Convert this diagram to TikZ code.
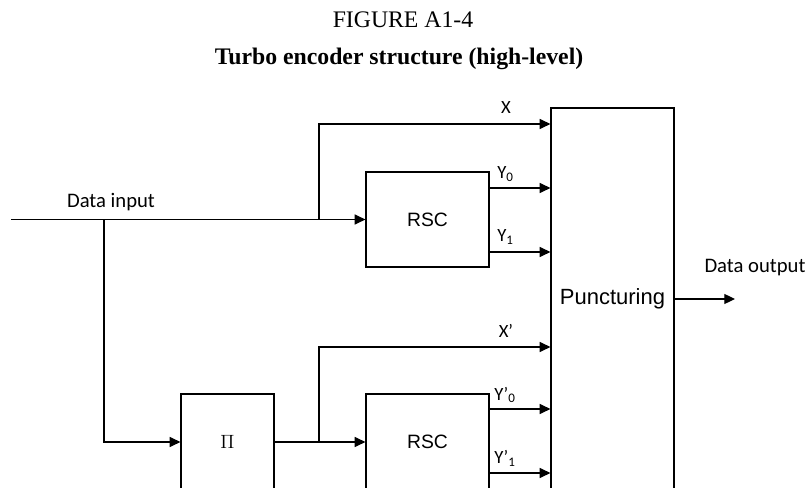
\documentclass[tikz,border=0pt]{standalone}
\usepackage{fontspec}
\setmainfont{Liberation Serif}
\newfontfamily\lblfont{Carlito}
\newfontfamily\boxfont{Liberation Sans}
\usetikzlibrary{arrows.meta}
\tikzset{
  blk/.style={draw, line width=0.9pt, inner sep=0pt, font=\boxfont\fontsize{14.5}{16}\selectfont},
  sig/.style={line width=0.9pt, -{Triangle[length=8pt,width=7.5pt]}},
  lbl/.style={inner sep=0pt, font=\lblfont\fontsize{14}{16}\selectfont},
}
\begin{document}
\begin{tikzpicture}[x=0.75pt,y=-0.75pt]
\useasboundingbox (0,0) rectangle (807,488);
\clip (0,0) rectangle (807,488);
% titles
\node[anchor=base, font=\fontsize{17.8}{20}\selectfont] (fig) at (403,28) {FIGURE A1-4};
\node[anchor=base, font=\bfseries\fontsize{17.8}{20}\selectfont] (ttl) at (399,65) {Turbo encoder structure (high-level)};
% blocks
\node[blk, minimum width=92.25pt, minimum height=71.25pt] (rsca) at (427.5,219.5) {RSC};
\node[blk, minimum width=92.25pt, minimum height=72pt] (rscb) at (427.5,442) {RSC};
\node[blk, minimum width=69.75pt, minimum height=72pt, font=\fontsize{15}{17}\selectfont] (perm) at (227.5,442) {$\Pi$};
\node[blk, minimum width=92.25pt, minimum height=285.75pt, font=\boxfont\fontsize{16.5}{18}\selectfont] (punct) at (612.5,298.5) {Puncturing};
% points on the lines
\coordinate (din) at (11,219.5);
\coordinate (sp0) at (104,219.5);
\coordinate (sp1) at (319,219.5);
\coordinate (sp2) at (319,442);
\coordinate (xa) at (319,124);
\coordinate (xb) at (319,347);
\coordinate (ya0) at (489,188);
\coordinate (ya1) at (489,252);
\coordinate (yb0) at (489,409);
\coordinate (yb1) at (489,473);
\coordinate (dout) at (735,299);
% connectors
\draw[sig] (din) -- (rsca.west);
\draw[sig] (sp0) |- (perm.west);
\draw[sig] (sp1) -- (xa) -- (punct.west |- xa);
\draw[sig] (perm.east) -- (rscb.west);
\draw[sig] (sp2) -- (xb) -- (punct.west |- xb);
\draw[sig] (ya0) -- (punct.west |- ya0);
\draw[sig] (ya1) -- (punct.west |- ya1);
\draw[sig] (yb0) -- (punct.west |- yb0);
\draw[sig] (yb1) -- (punct.west |- yb1);
\draw[sig] (punct.east |- dout) -- (dout);
% labels
\node[lbl, font=\lblfont\fontsize{15.5}{17}\selectfont] (lin) at (111,202) {Data input};
\node[lbl, font=\lblfont\fontsize{15.5}{17}\selectfont] (lout) at (755,268) {Data output};
\node[lbl] (lxa) at (506,108) {X};
\node[lbl, anchor=west] (lya0) at (497,174) {Y\textsubscript{0}};
\node[lbl, anchor=west] (lya1) at (497,237) {Y\textsubscript{1}};
\node[lbl] (lxb) at (506,331) {X’};
\node[lbl, anchor=west] (lyb0) at (494,395) {Y’\textsubscript{0}};
\node[lbl, anchor=west] (lyb1) at (494,458) {Y’\textsubscript{1}};
\end{tikzpicture}
\end{document}
